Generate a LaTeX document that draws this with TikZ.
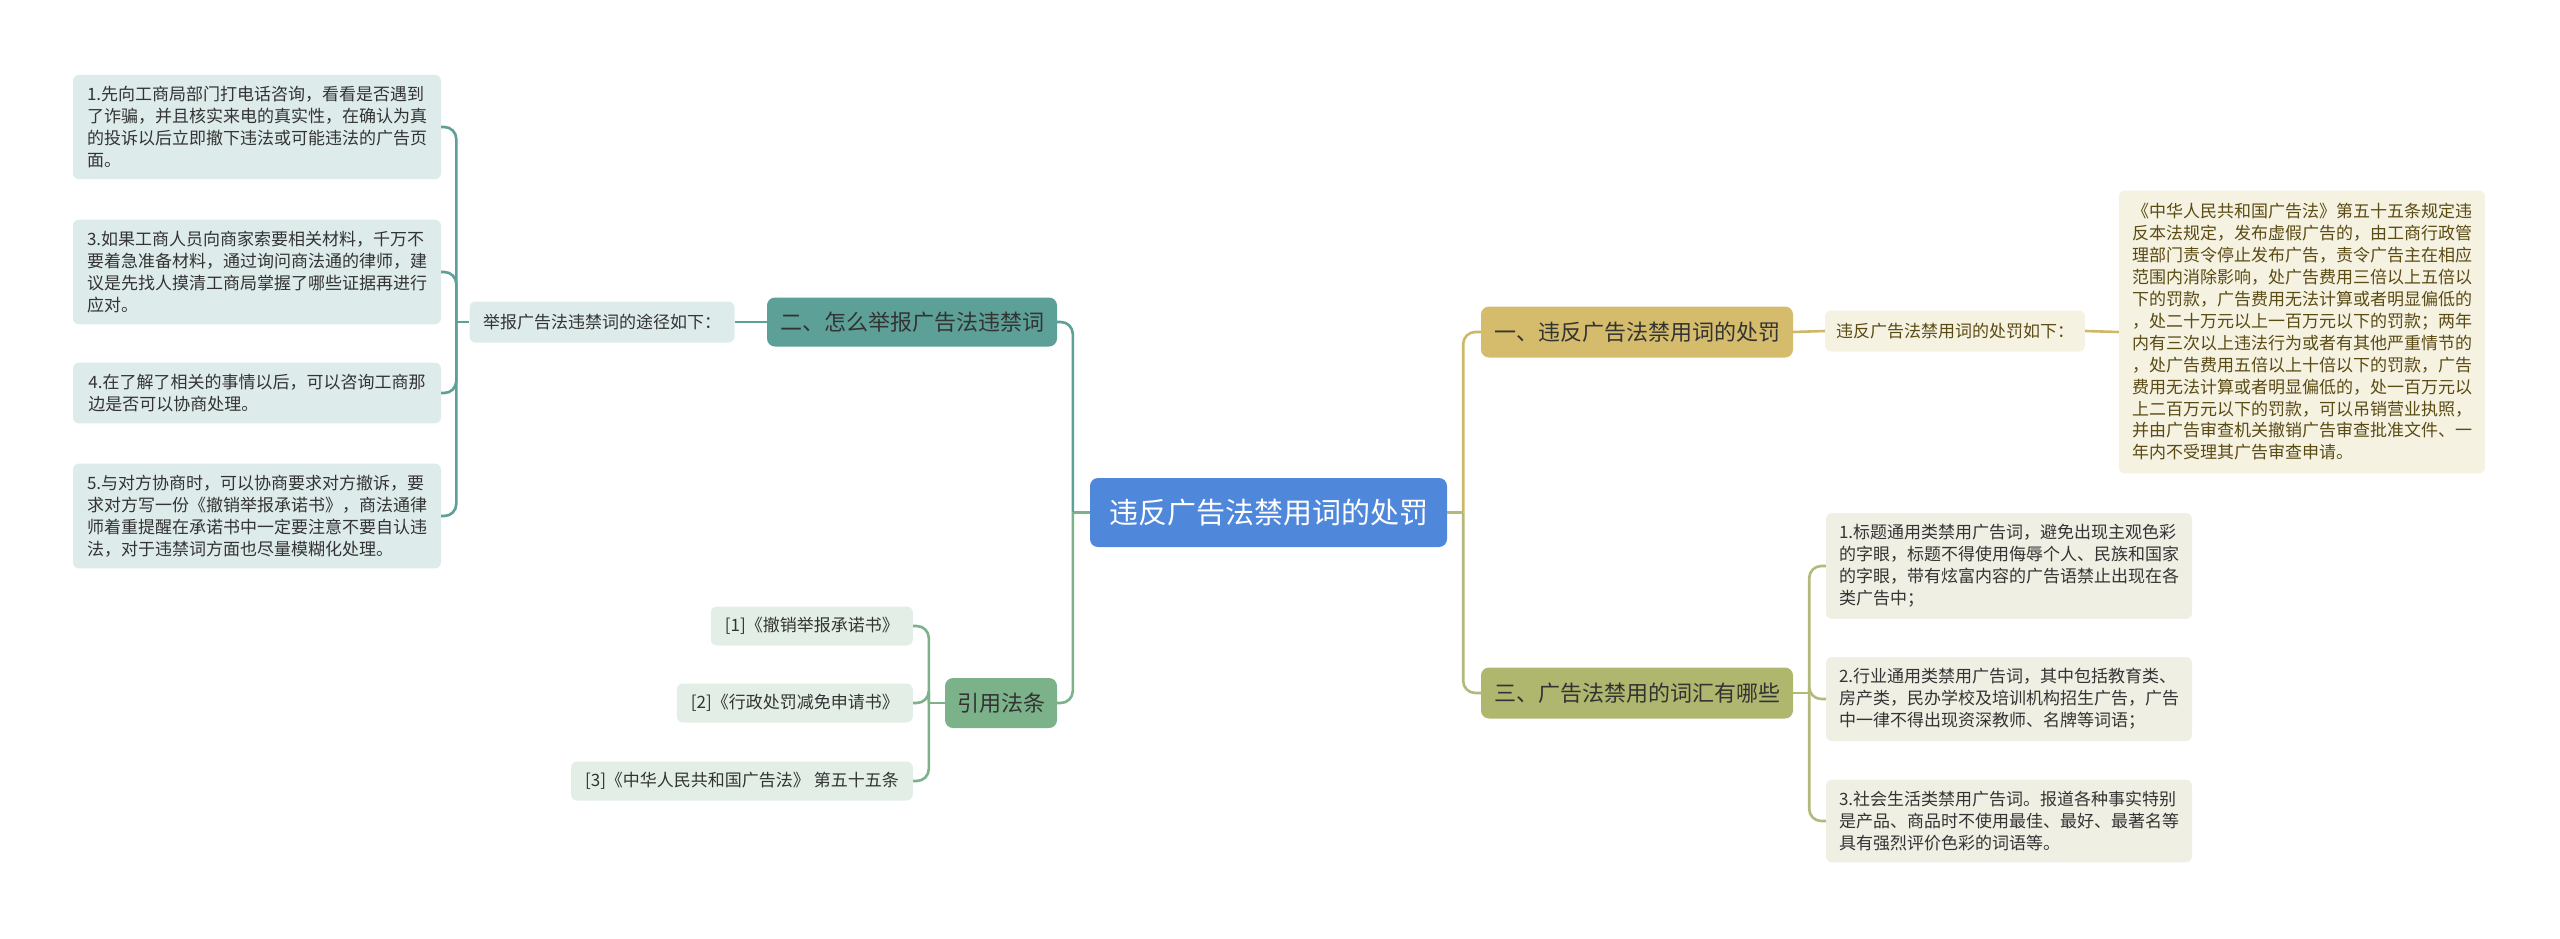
\documentclass[tikz,border=0pt]{standalone}
\usepackage{fontspec}
\setmainfont{Noto Sans CJK SC}
\usepackage{xcolor}
\usetikzlibrary{calc,positioning}
\definecolor{rootblue}{HTML}{4F87DA}
\definecolor{goldA}{HTML}{D4BC6C}
\definecolor{goldL}{HTML}{CDB86A}
\definecolor{goldF}{HTML}{F6F2E2}
\definecolor{goldT}{HTML}{5A4B14}
\definecolor{oliveA}{HTML}{AFB66E}
\definecolor{oliveL}{HTML}{B3B97A}
\definecolor{oliveF}{HTML}{EFEFE4}
\definecolor{tealA}{HTML}{5CA097}
\definecolor{tealL}{HTML}{5E9F96}
\definecolor{tealF}{HTML}{DDEBEA}
\definecolor{greenA}{HTML}{7CB28A}
\definecolor{greenL}{HTML}{7DB18A}
\definecolor{greenF}{HTML}{E3EFE6}
\definecolor{inkA}{HTML}{333333}
\newcommand\leaffont{\fontsize{17}{21.9}\selectfont}
\newcommand\branchfont{\fontsize{22}{26}\selectfont}

\begin{document}
\begin{tikzpicture}[x=1pt,y=-1pt,
  box/.style={rounded corners=6pt,inner xsep=8pt,inner ysep=11.5pt,text=inkA,align=left,font=\leaffont},
  branch/.style={rounded corners=8pt,inner sep=0pt,minimum height=51pt,text=inkA,font=\branchfont},
  conn/.style={line width=2.6pt,rounded corners=12pt}]
\useasboundingbox (0,0) rectangle (2560,938);
% centre
\node[fill=rootblue,text=white,rounded corners=8pt,minimum width=357pt,minimum height=69pt,font=\fontsize{29}{33}\selectfont] (root) at (1268.5,512.5) {违反广告法禁用词的处罚};
% right side
\node[branch,fill=goldA,minimum width=312pt] (B1) at (1637,332) {一、违反广告法禁用词的处罚};
\node[box,fill=goldF,text=goldT,minimum width=260pt,inner ysep=0pt,minimum height=41pt] (S1) at (1955,331) {违反广告法禁用词的处罚如下：};
\node[box,fill=goldF,text=goldT,minimum width=366pt,inner ysep=13pt] (R0) at (2302,332) {《中华人民共和国广告法》第五十五条规定违\\反本法规定，发布虚假广告的，由工商行政管\\理部门责令停止发布广告，责令广告主在相应\\范围内消除影响，处广告费用三倍以上五倍以\\下的罚款，广告费用无法计算或者明显偏低的\\，处二十万元以上一百万元以下的罚款；两年\\内有三次以上违法行为或者有其他严重情节的\\，处广告费用五倍以上十倍以下的罚款，广告\\费用无法计算或者明显偏低的，处一百万元以\\上二百万元以下的罚款，可以吊销营业执照，\\并由广告审查机关撤销广告审查批准文件、一\\年内不受理其广告审查申请。};
\node[branch,fill=oliveA,minimum width=312pt] (B3) at (1637,693) {三、广告法禁用的词汇有哪些};
\node[box,fill=oliveF,minimum width=366pt] (R1) at (2009,566) {1.标题通用类禁用广告词，避免出现主观色彩\\的字眼，标题不得使用侮辱个人、民族和国家\\的字眼，带有炫富内容的广告语禁止出现在各\\类广告中；};
\node[box,fill=oliveF,minimum width=366pt] (R2) at (2009,699) {2.行业通用类禁用广告词，其中包括教育类、\\房产类，民办学校及培训机构招生广告，广告\\中一律不得出现资深教师、名牌等词语；};
\node[box,fill=oliveF,minimum width=366pt] (R3) at (2009,821) {3.社会生活类禁用广告词。报道各种事实特别\\是产品、商品时不使用最佳、最好、最著名等\\具有强烈评价色彩的词语等。};
% left side
\node[branch,fill=tealA,minimum width=290pt,minimum height=49pt] (B2) at (912,322) {二、怎么举报广告法违禁词};
\node[box,fill=tealF,minimum width=265pt,inner ysep=0pt,minimum height=41pt] (S2) at (602,322) {举报广告法违禁词的途径如下：};
\node[box,fill=tealF,minimum width=368pt] (L1) at (257,127) {1.先向工商局部门打电话咨询，看看是否遇到\\了诈骗，并且核实来电的真实性，在确认为真\\的投诉以后立即撤下违法或可能违法的广告页\\面。};
\node[box,fill=tealF,minimum width=368pt] (L3) at (257,272) {3.如果工商人员向商家索要相关材料，千万不\\要着急准备材料，通过询问商法通的律师，建\\议是先找人摸清工商局掌握了哪些证据再进行\\应对。};
\node[box,fill=tealF,minimum width=368pt] (L4) at (257,393) {4.在了解了相关的事情以后，可以咨询工商那\\边是否可以协商处理。};
\node[box,fill=tealF,minimum width=368pt] (L5) at (257,516) {5.与对方协商时，可以协商要求对方撤诉，要\\求对方写一份《撤销举报承诺书》，商法通律\\师着重提醒在承诺书中一定要注意不要自认违\\法，对于违禁词方面也尽量模糊化处理。};
\node[branch,fill=greenA,minimum width=112pt,minimum height=50pt] (B4) at (1001,703) {引用法条};
\node[box,fill=greenF,inner xsep=14pt,inner ysep=0pt,minimum height=39pt,anchor=east] (F1) at (913,626) {[1]《撤销举报承诺书》};
\node[box,fill=greenF,inner xsep=14pt,inner ysep=0pt,minimum height=39pt,anchor=east] (F2) at (913,703) {[2]《行政处罚减免申请书》};
\node[box,fill=greenF,inner xsep=14pt,inner ysep=0pt,minimum height=39pt,anchor=east] (F3) at (913,781) {[3]《中华人民共和国广告法》 第五十五条};
% joints
\coordinate (rj) at ($(root.east)+(16,0)$);
\coordinate (tj3) at ($(B3.east)+(16,0)$);
\coordinate (lj) at ($(root.west)+(-17,0)$);
\coordinate (lj2) at ($(S2.west)+(-13,0)$);
\coordinate (lj4) at ($(B4.west)+(-16,0)$);
% connectors
\draw[conn,oliveL] (root.east)--(rj);
\draw[conn,goldL] (rj) |- (B1.west);
\draw[conn,oliveL] (rj) |- (B3.west);
\draw[conn,goldL] (B1.east)--(S1.west);
\draw[conn,goldL] (S1.east)--(R0.west);
\draw[conn,oliveL] (B3.east)--(tj3);
\foreach \n in {R1,R2,R3} \draw[conn,oliveL] (tj3) |- (\n.west);
\draw[conn,greenL] (root.west)--(lj);
\draw[conn,tealL] (lj) |- (B2.east);
\draw[conn,greenL] (lj) |- (B4.east);
\draw[conn,tealL] (B2.west)--(S2.east);
\foreach \n in {L1,L3,L4,L5} \draw[conn,tealL] (lj2) |- (\n.east);
\draw[conn,tealL] (S2.west)--(lj2);
\draw[conn,greenL] (B4.west)--(lj4);
\foreach \n in {F1,F2,F3} \draw[conn,greenL] (lj4) |- (\n.east);
\end{tikzpicture}
\end{document}
